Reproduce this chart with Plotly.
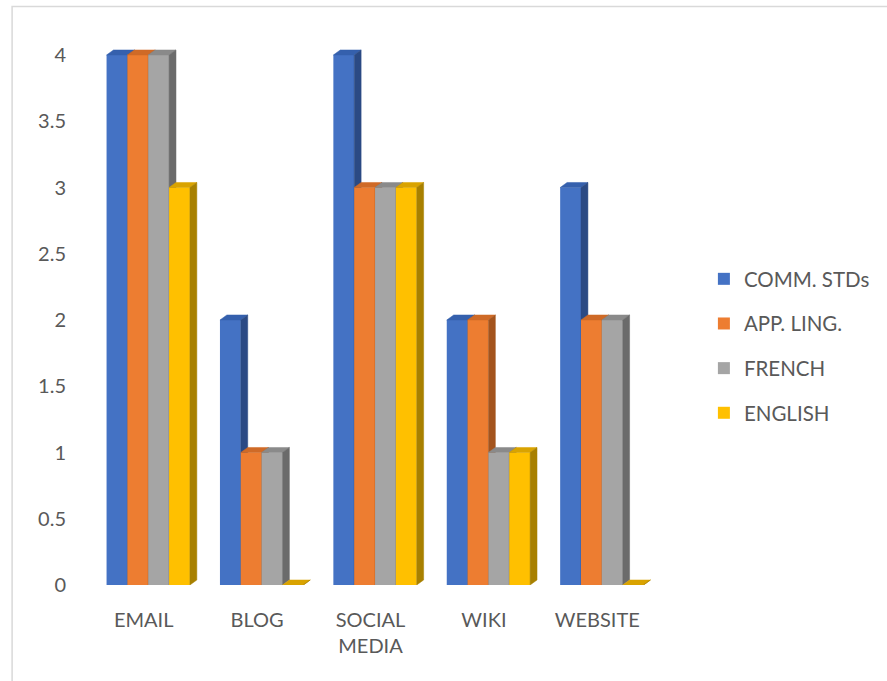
import plotly.graph_objects as go

# Survey data: usage score per medium for each department
categories = ["EMAIL", "BLOG", "SOCIAL<br>MEDIA", "WIKI", "WEBSITE"]
series_names = ["COMM. STDs", "APP. LING.", "FRENCH", "ENGLISH"]
comm_stds = [4, 2, 4, 2, 3]
app_ling = [4, 1, 3, 2, 2]
french = [4, 1, 3, 1, 2]
english = [3, 0, 3, 1, 0]
y_ticks = [0, 0.5, 1, 1.5, 2, 2.5, 3, 3.5, 4]

series_values = [comm_stds, app_ling, french, english]

# face colours: front, top, side
front_colors = ["#4472C4", "#ED7D31", "#A5A5A5", "#FFC000"]
top_colors = ["#3560AD", "#CF6A27", "#8A8A8A", "#D9A300"]
side_colors = ["#2B4A84", "#A4541D", "#6B6B6B", "#A88000"]

# geometry of the pseudo-3D columns (in axis units)
bar_w = 0.18375
group_half = 2 * bar_w
shift = 0.04
dx = 0.061
dy = 0.038

font_family = "Lato, 'Open Sans', sans-serif"
text_color = "#595959"

fig = go.Figure()
x_idx = list(range(len(categories)))

for k, (name, vals) in enumerate(zip(series_names, series_values)):
    offset = shift - group_half + k * bar_w
    fig.add_trace(go.Bar(
        x=x_idx, y=vals, name=name, width=bar_w, offset=offset,
        marker=dict(color=front_colors[k], line=dict(width=0)),
        legendgroup=name, zorder=3 * k,
    ))
    top_x, top_y, side_x, side_y = [], [], [], []
    for i, h in zip(x_idx, vals):
        xl = i + offset
        xr = xl + bar_w
        top_x += [xl, xr, xr + dx, xl + dx, xl, None]
        top_y += [h, h, h + dy, h + dy, h, None]
        side_x += [xr, xr + dx, xr + dx, xr, xr, None]
        side_y += [h, h + dy, dy, 0, h, None]
    fig.add_trace(go.Scatter(
        x=top_x, y=top_y, mode="lines", fill="toself",
        fillcolor=top_colors[k], line=dict(color=top_colors[k], width=0.5),
        showlegend=False, hoverinfo="skip", zorder=3 * k + 1,
    ))
    fig.add_trace(go.Scatter(
        x=side_x, y=side_y, mode="lines", fill="toself",
        fillcolor=side_colors[k], line=dict(color=side_colors[k], width=0.5),
        showlegend=False, hoverinfo="skip", zorder=3 * k + 2,
    ))

plot_h = 563
unit_px = 132.5

fig.update_layout(
    width=887, height=681,
    margin=dict(l=87, r=229, t=22, b=96, pad=0),
    paper_bgcolor="white", plot_bgcolor="white",
    barmode="overlay",
    font=dict(family=font_family, size=20, color=text_color),
    showlegend=True,
    legend=dict(
        x=1.088, y=0.4245, xanchor="left", yanchor="middle",
        font=dict(family=font_family, size=20.5, color=text_color),
        tracegroupgap=15, bgcolor="rgba(0,0,0,0)",
    ),
    xaxis=dict(
        range=[-0.5, 4.5], tickmode="array", tickvals=x_idx, ticktext=categories,
        showgrid=False, zeroline=False, showline=False, ticks="",
        ticklabelstandoff=21, fixedrange=True,
    ),
    yaxis=dict(
        range=[0, plot_h / unit_px], tickmode="array", tickvals=y_ticks,
        ticktext=[f"{v:g}" for v in y_ticks],
        showgrid=False, zeroline=False, showline=False, ticks="",
        ticklabelstandoff=20, fixedrange=True,
    ),
    shapes=[
        dict(type="rect", xref="paper", yref="paper",
             x0=(11.5 - 87) / 571.5, x1=1.5,
             y0=-0.3, y1=(585 - 6.5) / 563,
             line=dict(color="#D9D9D9", width=1.5), layer="below"),
    ],
)

fig.write_html("out.html")
